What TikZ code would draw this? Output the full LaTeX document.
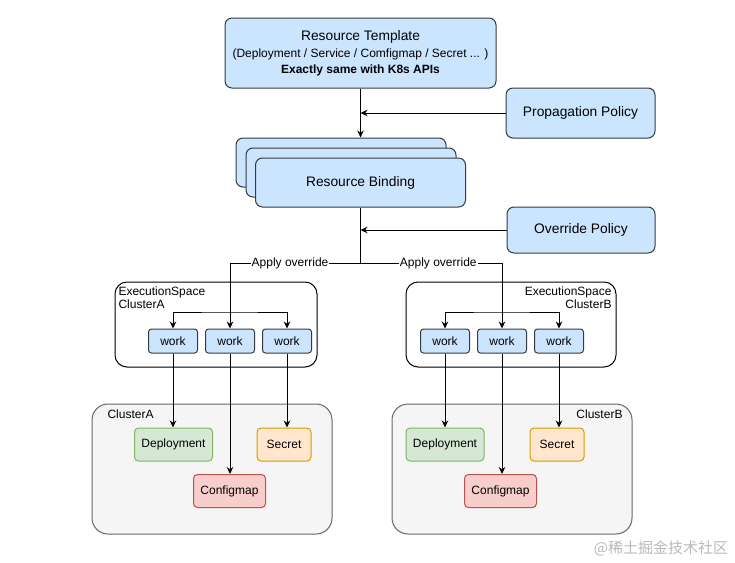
\documentclass[tikz,border=0pt]{standalone}
\usepackage{fontspec}
\setmainfont{Liberation Sans}
\newfontfamily\cjk{Noto Sans CJK SC}
\usetikzlibrary{arrows.meta,calc,positioning,backgrounds}

\definecolor{bluefill}{HTML}{CCE5FF}
\definecolor{bluedraw}{HTML}{36393D}
\definecolor{greenfill}{HTML}{D5E8D4}
\definecolor{greendraw}{HTML}{82B366}
\definecolor{orangefill}{HTML}{FFE6CC}
\definecolor{orangedraw}{HTML}{D79B00}
\definecolor{redfill}{HTML}{F8CECC}
\definecolor{reddraw}{HTML}{B85450}
\definecolor{clusterfill}{HTML}{F5F5F5}
\definecolor{clusterdraw}{HTML}{666666}

\tikzset{
  bigbox/.style={draw=bluedraw, fill=bluefill, rounded corners=7pt, inner sep=0pt, font=\fontsize{13.8}{16}\selectfont},
  workbox/.style={draw=bluedraw, fill=bluefill, rounded corners=3pt, minimum width=49pt, minimum height=24pt, inner sep=0pt, font=\fontsize{12}{14}\selectfont},
  resbox/.style={rounded corners=4pt, minimum height=33pt, inner sep=0pt, font=\fontsize{12}{14}\selectfont},
  depbox/.style={resbox, draw=greendraw, fill=greenfill, minimum width=78pt},
  secbox/.style={resbox, draw=orangedraw, fill=orangefill, minimum width=54pt},
  cfgbox/.style={resbox, draw=reddraw, fill=redfill, minimum width=72pt},
  spacebox/.style={draw=black, fill=white, rounded corners=12pt, minimum height=85pt},
  clusterbox/.style={draw=clusterdraw, fill=clusterfill, rounded corners=16pt, minimum width=240pt, minimum height=130pt},
  lbl/.style={fill=white, inner sep=1pt, font=\fontsize{12}{14}\selectfont},
  small/.style={inner sep=0pt, font=\fontsize{12}{13.5}\selectfont}
}

\begin{document}
\begin{tikzpicture}[x=1pt, y=-1pt, line width=1pt, >={Stealth[length=7pt,width=6.5pt]}]
  \useasboundingbox (0,0) rectangle (735,562);

  \node [bigbox, minimum width=271pt, minimum height=70pt, align=center] at (360.5,53) (template)
    {Resource Template\\[1pt]{\fontsize{12}{14}\selectfont (Deployment / Service / Comfigmap / Secret ... )}\\{\fontsize{12}{14}\selectfont\bfseries Exactly same with K8s APIs}};
  \node [bigbox, minimum width=149pt, minimum height=50pt] at (580.5,113) (propagation) {Propagation Policy};

  \node [bigbox, minimum width=210pt, minimum height=49pt] at (341,162.5) (binding1) {};
  \node [bigbox, minimum width=210pt, minimum height=49pt] at (351,172.5) (binding2) {};
  \node [bigbox, minimum width=210pt, minimum height=49pt] at (360.5,182.5) (binding3) {Resource Binding};

  \node [bigbox, minimum width=148pt, minimum height=46pt] at (581,230) (override) {Override Policy};

  \coordinate (split) at (360.5,263);

  % execution spaces
  \node [spacebox, minimum width=202pt] at (216,324.5) (spaceA) {};
  \node [spacebox, minimum width=210pt] at (511,324.5) (spaceB) {};
  \node [small, anchor=west, align=left] at (118,297.5) (spaceAlbl) {ExecutionSpace\\ClusterA};
  \node [small, anchor=east, align=right] at (612,297.5) (spaceBlbl) {ExecutionSpace\\ClusterB};

  \node [workbox] at (173,341) (workA1) {work};
  \node [workbox, right=7pt of workA1] (workA2) {work};
  \node [workbox, right=7pt of workA2] (workA3) {work};
  \node [workbox] at (445,341) (workB1) {work};
  \node [workbox, right=7pt of workB1] (workB2) {work};
  \node [workbox, right=7pt of workB2] (workB3) {work};
  \coordinate (fanA) at (229,312);
  \coordinate (fanB) at (501,312);

  % member clusters
  \node [clusterbox] at (212,469) (clusterA) {};
  \node [clusterbox] at (512,469) (clusterB) {};
  \node [small, anchor=west] at (107,414) (clusterAlbl) {ClusterA};
  \node [small, anchor=east] at (623,414) (clusterBlbl) {ClusterB};

  \node [depbox] at (173.5,444.5) (deployA) {Deployment};
  \node [secbox] at (284,444.5) (secretA) {Secret};
  \node [cfgbox] at (229.5,491) (configA) {Configmap};
  \node [depbox] at (445,444.5) (deployB) {Deployment};
  \node [secbox] at (557,444.5) (secretB) {Secret};
  \node [cfgbox] at (500.5,491) (configB) {Configmap};

  \node [text=gray!55, font=\cjk\fontsize{15}{17}\selectfont] at (661,548) (mark) {@稀土掘金技术社区};

  \draw [->] (template.south) -- (template.south |- binding1.north);
  \draw [->] (propagation.west) -- (template.south |- propagation.west);

  \draw (binding3.south) -- (split);
  \draw [->] (override.west) -- (binding3.south |- override.west);

  \draw [->] (split) -- node [lbl, pos=0.54] (applyA) {Apply override} (split -| workA2.north) -- (workA2.north);
  \draw [->] (split) -- node [lbl, pos=0.55] (applyB) {Apply override} (split -| workB2.north) -- (workB2.north);

  \draw [<->] (workA1.north) |- (fanA) -| (workA3.north);
  \draw [<->] (workB1.north) |- (fanB) -| (workB3.north);

  \draw [->] (workA1.south) -- (workA1.south |- deployA.north);
  \draw [->] (workA2.south) -- (workA2.south |- configA.north);
  \draw [->] (workA3.south) -- (workA3.south |- secretA.north);
  \draw [->] (workB1.south) -- (workB1.south |- deployB.north);
  \draw [->] (workB2.south) -- (workB2.south |- configB.north);
  \draw [->] (workB3.south) -- (workB3.south |- secretB.north);

\end{tikzpicture}
\end{document}
